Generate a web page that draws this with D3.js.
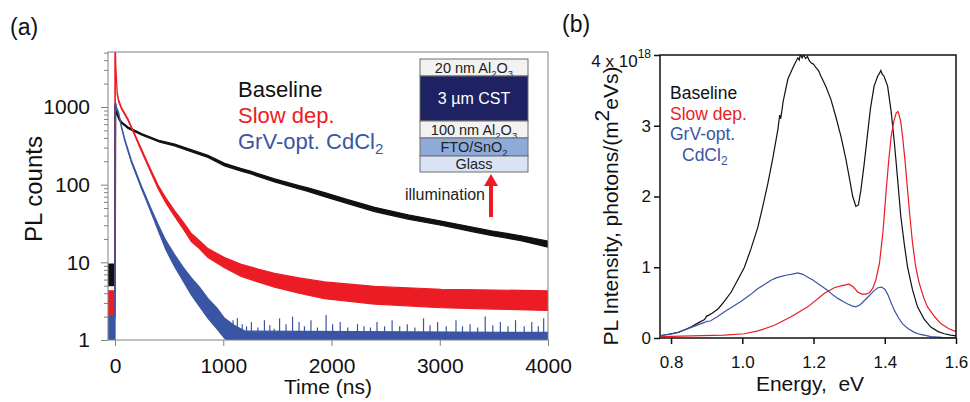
<!DOCTYPE html>
<html>
<head>
<meta charset="utf-8">
<script src="https://cdn.jsdelivr.net/npm/d3@7"></script>
<style>
body { margin: 0; background: #fff; }
text { font-family: "Liberation Sans", Arial, sans-serif; }
</style>
</head>
<body>
<svg id="fig" width="970" height="402"></svg>
<script>
// (a) time resolved PL : [time ns, low, high] envelope of the noisy traces
var baselineTR = [[-64,5,9.5],[-4,5,9.5],[-2,5,1000],[2,5,1080],[6,950,1100],[20,780,830],[40,670,710],[62,615,640],
  [120,530,552],[250,432,450],[415,352,368],[551,314,334],[750,252,268],[859,224,238],[1012,174,188],[1166,149,161],
  [1250,138,149],[1474,108,119],[1700,88,97],[1782,82,91],[1936,70,79],[2150,57,64],[2398,45,51],[2706,36,41],
  [3012,30,34],[3321,24.5,28],[3474,22.2,25.5],[3750,19,22],[3995,15.8,18.8]];
var slowTR = [[-64,2,4.3],[-2,2,4.3],[-1,2,6000],[1,2,6000],[3,3500,6000],[8,2900,3200],[20,1480,1560],[32,1180,1250],
  [60,940,980],[120,670,700],[180,435,455],[243,272,290],[320,156,168],[397,89,99],[470,58,67],[551,39,46],
  [630,27,33],[705,18.5,23.5],[780,15,19],[859,11.5,15],[1012,8.5,11.5],[1166,6.6,9.4],[1320,5.6,8.2],[1474,4.8,7.2],
  [1700,4,6.3],[1936,3.4,5.6],[2398,2.9,4.9],[3012,2.6,4.5],[3500,2.5,4.4],[3995,2.4,4.3]];
var grvTR = [[-64,1,2],[-2,1,2],[0,1,1100],[4,1000,1120],[12,930,990],[32,830,860],[60,540,560],[89,370,390],
  [150,196,208],[243,90,97],[320,49,54],[397,26,31],[470,14.5,19],[551,8.8,12.5],[630,5.7,8.6],[705,3.8,6.3],[780,2.7,4.8],
  [859,1.9,3.4],[940,1.4,2.6],[1012,1.05,1.9],[1100,0.9,1.55],[1200,0.9,1.3],[4000,0.9,1.25]];
var grvSpikes = [[1090,1.8],[1130,1.9],[1175,1.6],[1215,1.5],[1260,1.7],[1320,1.45],[1380,1.8],[1430,1.55],[1470,1.4],
  [1520,1.9],[1580,1.6],[1640,2.0],[1700,1.7],[1750,1.5],[1810,1.8],[1870,1.45],[1950,2.1],[2010,1.6],[2080,1.7],
  [2150,1.45],[2240,1.6],[2300,1.5],[2360,1.45],[2420,1.7],[2490,1.5],[2560,1.8],[2630,1.5],[2700,1.6],[2770,1.45],
  [2850,1.9],[2910,1.55],[2980,1.7],[3060,1.5],[3150,1.8],[3210,1.5],[3280,1.6],[3350,1.45],[3420,2.0],[3490,1.55],
  [3560,1.7],[3630,1.5],[3700,1.8],[3780,1.5],[3850,1.7],[3910,1.5],[3960,1.9]];
var timeTicks = [0,1000,2000,3000,4000];
var countTicks = [1,10,100,1000];

// (b) PL spectra : [energy eV, intensity 1e18 photons/(m2 eV s)]
var baselineSpec = [[0.772,0.035],[0.80,0.06],[0.82,0.08],[0.84,0.12],[0.857,0.16],[0.875,0.21],[0.894,0.26],[0.90,0.31],
  [0.905,0.32],[0.915,0.35],[0.932,0.41],[0.95,0.52],[0.969,0.65],[0.987,0.82],[1.006,1.0],[1.025,1.27],[1.044,1.57],
  [1.058,1.87],[1.072,2.19],[1.086,2.55],[1.10,2.95],[1.105,3.15],[1.108,3.1],[1.115,3.35],[1.128,3.66],[1.142,3.82],
  [1.15,3.9],[1.156,3.96],[1.16,3.93],[1.163,4.01],[1.168,3.96],[1.172,4.0],[1.178,3.95],[1.183,3.98],[1.188,3.92],
  [1.193,3.89],[1.2,3.87],[1.207,3.82],[1.214,3.78],[1.221,3.70],[1.235,3.55],[1.249,3.37],
  [1.263,3.12],[1.277,2.85],[1.29,2.55],[1.30,2.28],[1.31,2.0],[1.319,1.86],[1.326,1.88],[1.333,2.09],[1.342,2.45],
  [1.352,2.90],[1.36,3.25],[1.37,3.56],[1.38,3.70],[1.385,3.74],[1.389,3.78],[1.393,3.73],[1.398,3.70],[1.408,3.56],
  [1.418,3.20],[1.427,2.76],[1.436,2.25],[1.445,1.72],[1.455,1.32],[1.464,1.0],[1.478,0.68],[1.492,0.44],[1.51,0.27],
  [1.53,0.15],[1.55,0.09],[1.567,0.06],[1.585,0.04],[1.6,0.03]];
var slowSpec = [[0.772,0.02],[0.857,0.03],[0.95,0.04],[1.006,0.06],[1.044,0.1],[1.09,0.18],[1.137,0.30],[1.184,0.44],
  [1.23,0.63],[1.258,0.71],[1.28,0.74],[1.30,0.76],[1.312,0.72],[1.324,0.65],[1.336,0.62],[1.347,0.62],[1.357,0.64],
  [1.366,0.70],[1.375,0.82],[1.385,1.05],[1.395,1.5],[1.404,2.09],[1.411,2.5],[1.418,2.85],[1.425,3.05],[1.432,3.18],
  [1.437,3.2],[1.44,3.16],[1.445,3.05],[1.45,2.85],[1.457,2.5],[1.464,2.09],[1.471,1.7],[1.478,1.34],[1.487,1.0],
  [1.497,0.77],[1.51,0.56],[1.52,0.44],[1.54,0.30],[1.558,0.20],[1.58,0.13],[1.6,0.09]];
var grvSpec = [[0.772,0.035],[0.80,0.055],[0.82,0.08],[0.857,0.15],[0.894,0.22],[0.90,0.235],[0.91,0.24],[0.93,0.30],
  [0.95,0.37],[0.975,0.45],[1.0,0.53],[1.022,0.61],[1.044,0.70],[1.063,0.76],[1.082,0.82],[1.095,0.85],[1.11,0.87],
  [1.125,0.89],[1.137,0.90],[1.156,0.92],[1.17,0.90],[1.184,0.86],[1.198,0.82],[1.212,0.77],[1.226,0.72],[1.24,0.67],
  [1.254,0.61],[1.268,0.56],[1.282,0.52],[1.296,0.48],[1.308,0.455],[1.319,0.44],[1.331,0.47],[1.343,0.53],[1.357,0.60],
  [1.37,0.67],[1.381,0.71],[1.391,0.72],[1.40,0.69],[1.408,0.62],[1.417,0.51],[1.427,0.39],[1.438,0.29],[1.45,0.20],
  [1.466,0.13],[1.483,0.08],[1.50,0.05],[1.53,0.02],[1.56,0.01],[1.6,0.005]];
var energyTicks = [0.8,1.0,1.2,1.4,1.6];
var intensityTicks = [0,1,2,3];

var names = ["Baseline", "Slow dep.", "GrV-opt. CdCl"];
var colors = ["#111111", "#ec1c24", "#3a55a4"];

// inset stack: label parts (s = subscript), fill, height, text colour
var layers = [
  {parts:[["20 nm Al",""],["2","s"],["O",""],["3","s"]], fill:"#f2f2f2", h:17, tc:"#222"},
  {parts:[["3 \u00b5m CST",""]], fill:"#1e2262", h:45, tc:"#fff"},
  {parts:[["100 nm Al",""],["2","s"],["O",""],["3","s"]], fill:"#f2f2f2", h:17, tc:"#222"},
  {parts:[["FTO/SnO",""],["2","s"]], fill:"#8eaad9", h:18, tc:"#222"},
  {parts:[["Glass",""]], fill:"#d9e3f3", h:16, tc:"#222"}
];

var svg = d3.select("#fig");

// ---------- panel (a) ----------
var xA = d3.scaleLinear().domain([-65, 4000]).range([108, 548]);
var yA = d3.scaleLog().domain([1, 5100]).range([340, 52]);

svg.append("clipPath").attr("id","clipA").append("rect")
  .attr("x",108).attr("y",52).attr("width",440).attr("height",288);

var gA = svg.append("g");
var plotA = gA.append("g").attr("clip-path","url(#clipA)");

var band = d3.area().x(d=>xA(d[0])).y0(d=>yA(d[1])).y1(d=>yA(d[2]));
[baselineTR, slowTR, grvTR].forEach(function(s,i){
  plotA.append("path").attr("d", band(s)).attr("fill", colors[i])
    .attr("stroke", colors[i]).attr("stroke-width", 1.2);
});
plotA.selectAll("line.gspike").data(grvSpikes).enter().append("line")
  .attr("x1",d=>xA(d[0])).attr("x2",d=>xA(d[0]))
  .attr("y1",yA(1)).attr("y2",d=>yA(d[1]))
  .attr("stroke",colors[2]).attr("stroke-width",1.2);

gA.append("rect").attr("x",108).attr("y",52).attr("width",440).attr("height",288)
  .attr("fill","none").attr("stroke","#808080").attr("stroke-width",1);

var minor = [];
[1,10,100,1000].forEach(function(p){ for (var k=2;k<=9;k++){ if (p*k<5100) minor.push(p*k); } });

gA.append("g").attr("transform","translate(108,0)")
  .call(d3.axisLeft(yA).tickValues(minor).tickSize(4).tickFormat(""))
  .call(g=>g.select(".domain").remove())
  .selectAll("line").attr("stroke","#808080");
gA.append("g").attr("transform","translate(108,0)")
  .call(d3.axisLeft(yA).tickValues(countTicks).tickSize(7).tickPadding(11).tickFormat(d3.format("d")))
  .call(g=>g.select(".domain").remove())
  .call(g=>g.selectAll("line").attr("stroke","#808080"))
  .selectAll("text").attr("font-size",21).attr("fill","#111").attr("font-family","Liberation Sans, Arial, sans-serif");
gA.append("g").attr("transform","translate(0,340)")
  .call(d3.axisBottom(xA).tickValues(timeTicks).tickSize(6).tickPadding(12).tickFormat(d3.format("d")))
  .call(g=>g.select(".domain").remove())
  .call(g=>g.selectAll("line").attr("stroke","#808080"))
  .selectAll("text").attr("font-size",21).attr("fill","#111").attr("font-family","Liberation Sans, Arial, sans-serif");

gA.append("text").attr("x",328).attr("y",394).attr("text-anchor","middle")
  .attr("font-size",21).attr("fill","#111").text("Time (ns)");
gA.append("text").attr("transform","translate(42,189) rotate(-90)").attr("text-anchor","middle")
  .attr("font-size",24).attr("fill","#111").text("PL counts");
svg.append("text").attr("x",10).attr("y",35).attr("font-size",23).attr("fill","#111").text("(a)");

// legend (a)
names.forEach(function(n,i){
  var t = gA.append("text").attr("x",238).attr("y",97+i*26).attr("font-size",22).attr("fill",colors[i]);
  t.append("tspan").text(n);
  if (i==2) t.append("tspan").attr("font-size",15).attr("dy",5).text("2");
});

// inset stack
var inset = gA.append("g");
var yy = 59;
layers.forEach(function(L){
  inset.append("rect").attr("x",420).attr("y",yy).attr("width",108).attr("height",L.h)
    .attr("fill",L.fill).attr("stroke","#6e6e6e").attr("stroke-width",1);
  var t = inset.append("text").attr("x",474).attr("y",yy+L.h/2+5).attr("text-anchor","middle")
    .attr("font-family","Lato, 'Open Sans', sans-serif").attr("font-size",L.tc=="#fff"?16:14.5).attr("fill",L.tc);
  L.parts.forEach(function(p,j){
    var prev = j>0 ? L.parts[j-1][1] : "";
    var ts = t.append("tspan").text(p[0]);
    if (p[1]=="s") ts.attr("font-size",9.5).attr("dy",4);
    else if (prev=="s") ts.attr("dy",-4);
  });
  yy += L.h;
});
inset.append("text").attr("x",485).attr("y",200).attr("text-anchor","end")
  .attr("font-family","Lato, 'Open Sans', sans-serif").attr("font-size",16).attr("fill","#222").text("illumination");
inset.append("path").attr("d","M489,217 L489,186 L484,186 L491,174 L498,186 L493,186 L493,217 Z")
  .attr("fill","#ec1c24");

// ---------- panel (b) ----------
var xB = d3.scaleLinear().domain([0.769, 1.6]).range([660, 956]);
var yB = d3.scaleLinear().domain([0, 4]).range([338, 55]);

svg.append("clipPath").attr("id","clipB").append("rect")
  .attr("x",660).attr("y",55).attr("width",296).attr("height",283);
var gB = svg.append("g");
var plotB = gB.append("g").attr("clip-path","url(#clipB)");
var line = d3.line().x(d=>xB(d[0])).y(d=>yB(d[1]));
[baselineSpec, slowSpec, grvSpec].forEach(function(s,i){
  plotB.append("path").attr("d", line(s)).attr("fill","none").attr("stroke",colors[i]).attr("stroke-width",1.2);
});
gB.append("rect").attr("x",660).attr("y",55).attr("width",296).attr("height",283)
  .attr("fill","none").attr("stroke","#111").attr("stroke-width",1.5);

gB.append("g").attr("transform","translate(660,0)")
  .call(d3.axisLeft(yB).tickValues(intensityTicks.concat([4])).tickSize(6).tickPadding(3)
    .tickFormat(d=>d==4 ? "" : d))
  .call(g=>g.select(".domain").remove())
  .call(g=>g.selectAll("line").attr("stroke","#111").attr("stroke-width",1.5))
  .selectAll("text").attr("font-size",17).attr("fill","#111").attr("font-family","Liberation Sans, Arial, sans-serif");
gB.append("g").attr("transform","translate(0,338)")
  .call(d3.axisBottom(xB).tickValues(energyTicks).tickSize(6).tickPadding(12).tickFormat(d3.format(".1f")))
  .call(g=>g.select(".domain").remove())
  .call(g=>g.selectAll("line").attr("stroke","#111").attr("stroke-width",1.5))
  .selectAll("text").attr("font-size",17).attr("fill","#111").attr("font-family","Liberation Sans, Arial, sans-serif");

var top4 = gB.append("text").attr("x",651).attr("y",yB(4)+12).attr("text-anchor","end")
  .attr("font-size",17).attr("fill","#111");
top4.append("tspan").text("4 x 10");
top4.append("tspan").attr("font-size",12).attr("dy",-9).text("18");

gB.append("text").attr("x",810).attr("y",391).attr("text-anchor","middle")
  .attr("font-size",21).attr("fill","#111").text("Energy,\u00a0 eV");
var yl = gB.append("text").attr("transform","translate(618,206) rotate(-90)").attr("text-anchor","middle")
  .attr("font-size",21).attr("fill","#111");
yl.append("tspan").text("PL Intensity, photons/(m");
yl.append("tspan").attr("dy",-9).text("2");
yl.append("tspan").attr("dy",9).text("eVs)");
svg.append("text").attr("x",562).attr("y",32).attr("font-size",23).attr("fill","#111").text("(b)");

// legend (b)
var legB = [["Baseline",670,99],["Slow dep.",670,119.5],["GrV-opt.",670,140],["CdCl",682,160.5]];
legB.forEach(function(l,i){
  var t = gB.append("text").attr("x",l[1]).attr("y",l[2]).attr("font-size",17.5).attr("fill",colors[Math.min(i,2)]);
  t.append("tspan").text(l[0]);
  if (i==3) t.append("tspan").attr("font-size",12).attr("dy",4).text("2");
});
</script>
</body>
</html>
